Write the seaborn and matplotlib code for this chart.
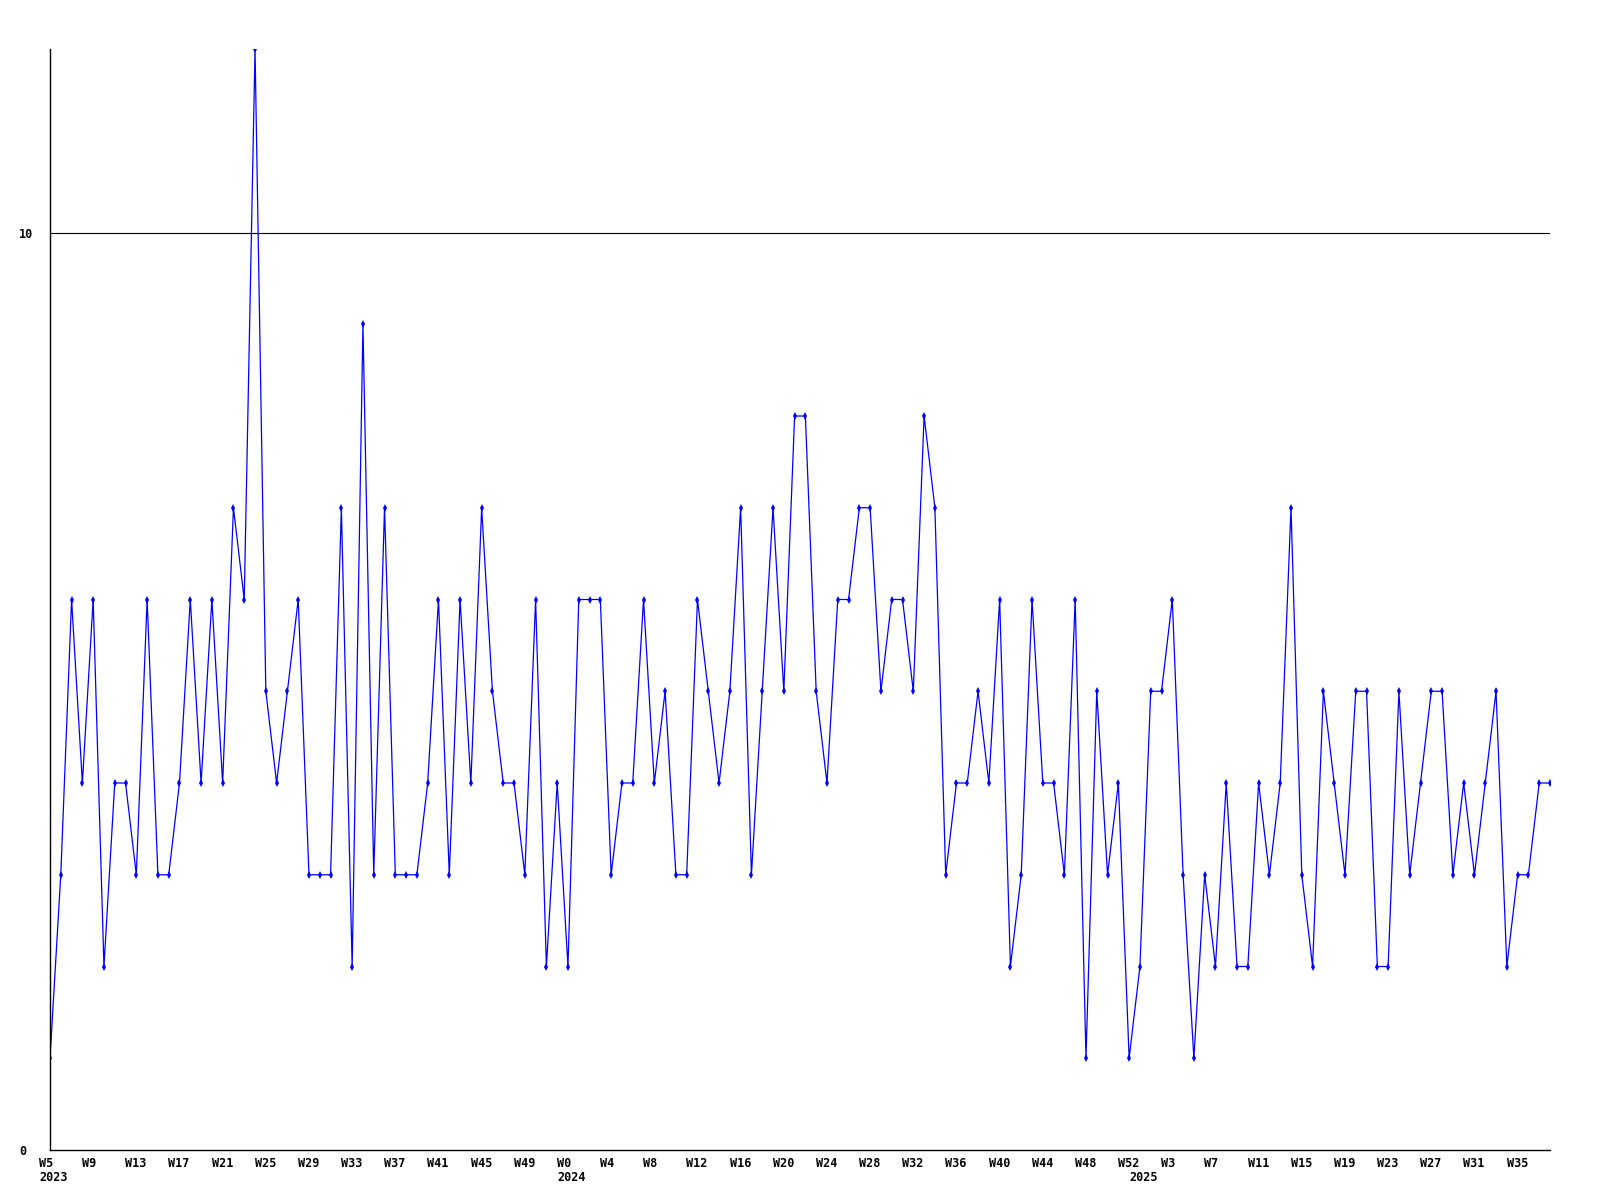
import matplotlib
matplotlib.use("Agg")
import matplotlib.pyplot as plt
from matplotlib.transforms import ScaledTranslation
import pandas as pd
import seaborn as sns

# weekly counts, 2023 W5 .. 2025 W38
years = [2023] * 48 + [2024] * 53 + [2025] * 39
weeks = list(range(5, 53)) + list(range(0, 53)) + list(range(0, 39))
counts = [
    1, 3, 6, 4, 6, 2, 4, 4, 3, 6, 3, 3, 4, 6, 4, 6, 4, 7, 6, 12,
    5, 4, 5, 6, 3, 3, 3, 7, 2, 9, 3, 7, 3, 3, 3, 4, 6, 3, 6, 4,
    7, 5, 4, 4, 3, 6, 2, 4, 2, 6, 6, 6, 3, 4, 4, 6, 4, 5, 3, 3,
    6, 5, 4, 5, 7, 3, 5, 7, 5, 8, 8, 5, 4, 6, 6, 7, 7, 5, 6, 6,
    5, 8, 7, 3, 4, 4, 5, 4, 6, 2, 3, 6, 4, 4, 3, 6, 1, 5, 3, 4,
    1, 2, 5, 5, 6, 3, 1, 3, 2, 4, 2, 2, 4, 3, 4, 7, 3, 2, 5, 4,
    3, 5, 5, 2, 2, 5, 3, 4, 5, 5, 3, 4, 3, 4, 5, 2, 3, 3, 4, 4,
]

df = pd.DataFrame({"idx": range(len(counts)), "count": counts,
                   "year": years, "week": weeks})

fig = plt.figure(figsize=(16, 12), dpi=100)
ax = fig.add_axes([50 / 1600, 50 / 1200, 1500 / 1600, 1101 / 1200])

sns.lineplot(data=df, x="idx", y="count", ax=ax, color="#0000ff",
             linewidth=0.9, marker="d", markersize=4, markeredgewidth=0)

ax.set_xlim(0, len(counts) - 1)
ax.set_ylim(0, 12)
ax.set_xlabel("")
ax.set_ylabel("")

for side in ["top", "right"]:
    ax.spines[side].set_visible(False)
for side in ["left", "bottom"]:
    ax.spines[side].set_color("black")
    ax.spines[side].set_linewidth(1.0)

font = dict(family="DejaVu Sans Mono", weight="bold", size=8.5)

# y labels sit left-aligned near the figure edge
ax.set_yticks([0, 10])
ax.set_yticklabels(["0", "10"], ha="left", **font)
ax.tick_params(axis="y", length=0, pad=22.5)
ax.axhline(10, color="black", linewidth=0.8, zorder=0)

tick_idx = list(range(0, len(counts), 4))
ax.set_xticks(tick_idx)
ax.set_xticklabels([f"W{weeks[i]}" for i in tick_idx], ha="left", **font)
ax.tick_params(axis="x", length=0, pad=5)
shift = ScaledTranslation(-11 / 100, 0, fig.dpi_scale_trans)
for lab in ax.get_xticklabels():
    lab.set_transform(lab.get_transform() + shift)

# year labels under first week of each year
for i, y in enumerate(years):
    if i == 0 or years[i - 1] != y:
        ax.annotate(str(y), xy=(i, 0), xycoords=("data", "axes fraction"),
                    xytext=(-11, -21), textcoords="offset pixels",
                    ha="left", va="top", **font)

fig.savefig("out.png", dpi=100)
